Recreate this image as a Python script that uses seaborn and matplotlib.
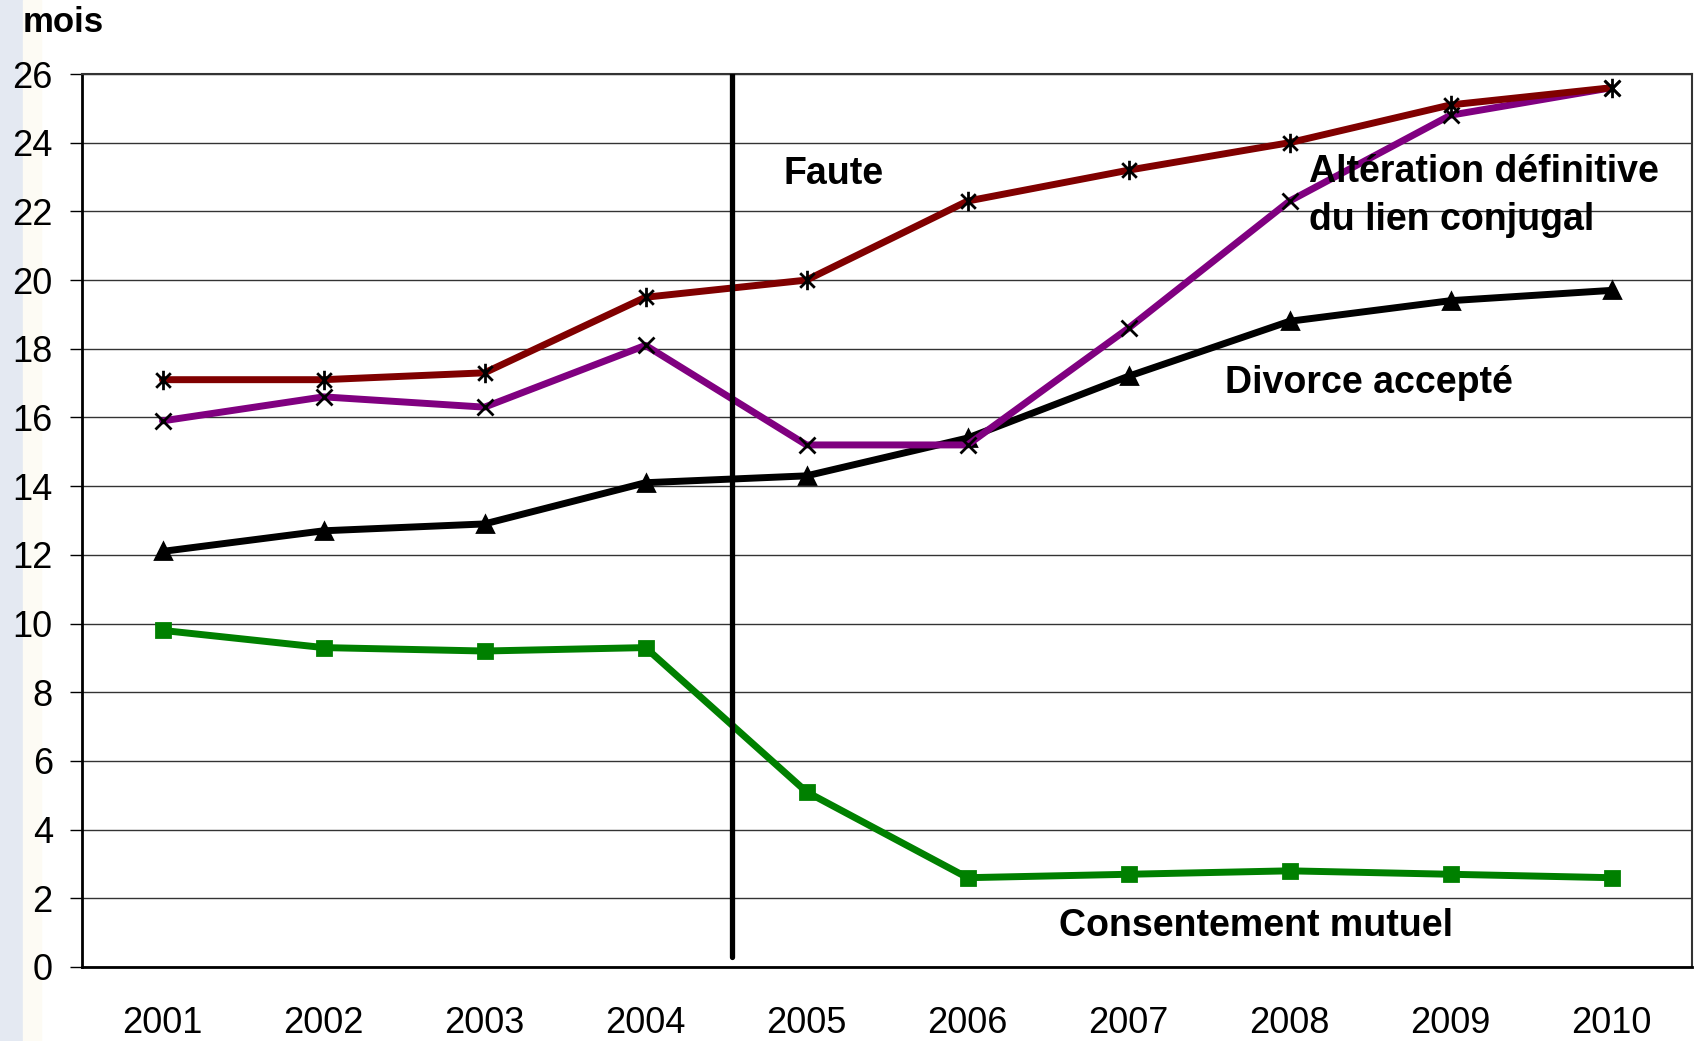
import numpy as np
import pandas as pd
import matplotlib
matplotlib.use("Agg")
import matplotlib.pyplot as plt
import seaborn as sns
from matplotlib.patches import Rectangle
from matplotlib.path import Path

# Data (durations in months)
years = ["2001", "2002", "2003", "2004", "2005", "2006", "2007", "2008", "2009", "2010"]
faute = [17.1, 17.1, 17.3, 19.5, 20.0, 22.3, 23.2, 24.0, 25.1, 25.6]
alteration = [15.9, 16.6, 16.3, 18.1, 15.2, 15.2, 18.6, 22.3, 24.8, 25.6]
accepte = [12.1, 12.7, 12.9, 14.1, 14.3, 15.4, 17.2, 18.8, 19.4, 19.7]
consentement = [9.8, 9.3, 9.2, 9.3, 5.1, 2.6, 2.7, 2.8, 2.7, 2.6]
y_ticks = list(range(0, 27, 2))

sns.set_theme(style="white")
plt.rcParams["font.family"] = ["Liberation Sans", "DejaVu Sans"]

# Excel-like star marker: an X with a vertical bar
star = Path([(0, -1), (0, 1), (-0.75, -0.75), (0.75, 0.75), (-0.75, 0.75), (0.75, -0.75)],
            [Path.MOVETO, Path.LINETO] * 3)

fig = plt.figure(figsize=(16.94, 10.41), dpi=100)
# light strip on the left edge
fig.patches.append(Rectangle((0, 0), 23 / 1694, 1, transform=fig.transFigure,
                             color="#e4e9f2", zorder=-2))
fig.patches.append(Rectangle((23 / 1694, 0), 18 / 1694, 1, transform=fig.transFigure,
                             color="#fdfbf4", zorder=-2))

ax = fig.add_axes([82 / 1694, 1 - 967 / 1041, 1610 / 1694, (967 - 74) / 1041])
ax.set_zorder(1)
ax.patch.set_alpha(0)

x = np.arange(len(years))
df = pd.DataFrame({"x": x, "faute": faute, "alteration": alteration,
                   "accepte": accepte, "consentement": consentement})

# series: column, line colour, marker, marker colour, marker size
series = [
    ("consentement", "#008000", "s", "#008000", 10),
    ("accepte", "#000000", "^", "#000000", 11),
    ("alteration", "#800080", "x", "#000000", 12),
    ("faute", "#800000", star, "#000000", 14),
]
for col, color, marker, mcolor, ms in series:
    sns.lineplot(data=df, x="x", y=col, ax=ax, color=color, linewidth=5,
                 marker=marker, markersize=ms, markerfacecolor=mcolor,
                 markeredgecolor=mcolor, markeredgewidth=2, zorder=3)

# reform separator between 2004 and 2005
ax.plot([3.54, 3.54], [0.3, 26], color="black", linewidth=3.8, zorder=4)

ax.set_xlim(-0.5, 9.5)
ax.set_ylim(0, 26)
ax.set_yticks(y_ticks)
ax.set_yticklabels([str(v) for v in y_ticks], fontsize=26)
ax.set_xticks(np.arange(-0.5, 10, 1))
ax.set_xticklabels([])
ax.set_xticks(x, minor=True)
ax.set_xticklabels(years, minor=True, fontsize=26)
ax.tick_params(axis="x", which="major", direction="out", length=9, width=1, color="black")
ax.tick_params(axis="x", which="minor", length=0, pad=28, labelcolor="black")
ax.tick_params(axis="y", direction="out", length=9, width=1, color="black", pad=12,
               left=True, labelcolor="black")
ax.set_xlabel("")
ax.set_ylabel("")
ax.grid(axis="y", color="#333333", linewidth=1)
ax.grid(axis="x", visible=False)
ax.set_axisbelow(True)
for side in ["left", "bottom"]:
    ax.spines[side].set_color("black")
    ax.spines[side].set_linewidth(2)
for side in ["top", "right"]:
    ax.spines[side].set_color("#333333")
    ax.spines[side].set_linewidth(1.5)

lab = dict(fontsize=27, fontweight="bold", color="black", zorder=6)
ax.text(3.86, 23.1, "Faute", va="center", ha="left", **lab)
ax.text(7.12, 23.15, "Altération définitive", va="center", ha="left", **lab)
ax.text(7.12, 21.75, "du lien conjugal", va="center", ha="left", **lab)
ax.text(6.6, 17.0, "Divorce accepté", va="center", ha="left", **lab)
ax.text(5.57, 1.2, "Consentement mutuel", va="center", ha="left", **lab)

fig.text(23 / 1694, 1 - 32 / 1041, "mois", fontsize=25, fontweight="bold",
         color="black", va="baseline", ha="left")

fig.savefig("out.png", dpi=100)
